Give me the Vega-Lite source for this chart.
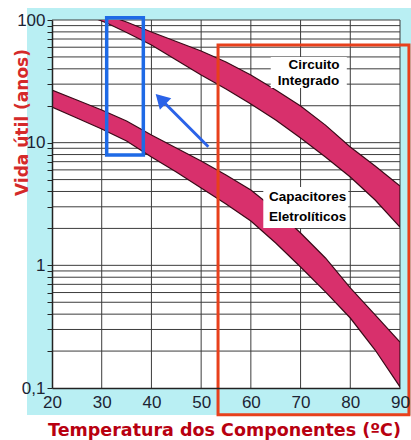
{
  "$schema": "https://vega.github.io/schema/vega-lite/v6.json",
  "width": 348,
  "height": 368,
  "autosize": {"type": "none"},
  "padding": {"left": 52, "top": 20, "right": 11, "bottom": 52},
  "background": "white",
  "config": {"view": {"stroke": null}},
  "datasets": {
    "frame": [{"x": 14.97, "x2": 93, "y": 0.0603, "y2": 125.3}],
    "plot": [{"x": 20, "x2": 90, "y": 0.1, "y2": 100}],
    "gridx": [{"gx": 30}, {"gx": 40}, {"gx": 50}, {"gx": 60}, {"gx": 70}, {"gx": 80}, {"gx": 90}],
    "gridy": [{"gy": 0.2}, {"gy": 0.3}, {"gy": 0.4}, {"gy": 0.5}, {"gy": 0.6}, {"gy": 0.7}, {"gy": 0.8}, {"gy": 0.9}, {"gy": 1}, {"gy": 2}, {"gy": 3}, {"gy": 4}, {"gy": 5}, {"gy": 6}, {"gy": 7}, {"gy": 8}, {"gy": 9}, {"gy": 10}, {"gy": 20}, {"gy": 30}, {"gy": 40}, {"gy": 50}, {"gy": 60}, {"gy": 70}, {"gy": 80}, {"gy": 90}, {"gy": 100}],
    "bands": [
      {"serie": "Circuito Integrado", "x": 28, "top": 120.6, "bottom": 105.8},
      {"serie": "Circuito Integrado", "x": 31, "top": 109.8, "bottom": 94.5},
      {"serie": "Circuito Integrado", "x": 35, "top": 96.3, "bottom": 79.1},
      {"serie": "Circuito Integrado", "x": 40, "top": 79.8, "bottom": 62.6},
      {"serie": "Circuito Integrado", "x": 45, "top": 66.8, "bottom": 47.2},
      {"serie": "Circuito Integrado", "x": 50, "top": 55.9, "bottom": 35.6},
      {"serie": "Circuito Integrado", "x": 55, "top": 45.5, "bottom": 27.4},
      {"serie": "Circuito Integrado", "x": 60, "top": 35.6, "bottom": 20.7},
      {"serie": "Circuito Integrado", "x": 65, "top": 26.9, "bottom": 15.3},
      {"serie": "Circuito Integrado", "x": 70, "top": 19.9, "bottom": 10.9},
      {"serie": "Circuito Integrado", "x": 75, "top": 13.9, "bottom": 7.64},
      {"serie": "Circuito Integrado", "x": 80, "top": 9.22, "bottom": 5.25},
      {"serie": "Circuito Integrado", "x": 85, "top": 6.45, "bottom": 3.41},
      {"serie": "Circuito Integrado", "x": 90, "top": 4.44, "bottom": 2.05},
      {"serie": "Capacitores Eletrolíticos", "x": 20, "top": 26.88, "bottom": 19.54},
      {"serie": "Capacitores Eletrolíticos", "x": 25, "top": 22.27, "bottom": 15.88},
      {"serie": "Capacitores Eletrolíticos", "x": 30, "top": 18.46, "bottom": 12.92},
      {"serie": "Capacitores Eletrolíticos", "x": 35, "top": 15.02, "bottom": 10.32},
      {"serie": "Capacitores Eletrolíticos", "x": 40, "top": 11.55, "bottom": 7.64},
      {"serie": "Capacitores Eletrolíticos", "x": 45, "top": 9.05, "bottom": 5.77},
      {"serie": "Capacitores Eletrolíticos", "x": 50, "top": 7.09, "bottom": 4.27},
      {"serie": "Capacitores Eletrolíticos", "x": 55, "top": 5.45, "bottom": 3.16},
      {"serie": "Capacitores Eletrolíticos", "x": 60, "top": 4.11, "bottom": 2.30},
      {"serie": "Capacitores Eletrolíticos", "x": 65, "top": 2.83, "bottom": 1.52},
      {"serie": "Capacitores Eletrolíticos", "x": 70, "top": 1.835, "bottom": 0.969},
      {"serie": "Capacitores Eletrolíticos", "x": 75, "top": 1.148, "bottom": 0.607},
      {"serie": "Capacitores Eletrolíticos", "x": 80, "top": 0.654, "bottom": 0.372},
      {"serie": "Capacitores Eletrolíticos", "x": 85, "top": 0.394, "bottom": 0.204},
      {"serie": "Capacitores Eletrolíticos", "x": 90, "top": 0.237, "bottom": 0.102}
    ],
    "boxes": [
      {"x": 64.0, "x2": 79.3, "y": 27.9, "y2": 49.9},
      {"x": 62.5, "x2": 79.6, "y": 2.02, "y2": 4.35}
    ],
    "labels": [
      {"x": 72.7, "y": 42.6, "t": "Circuito"},
      {"x": 71.6, "y": 32.1, "t": "Integrado"},
      {"x": 71.4, "y": 3.62, "t": "Capacitores"},
      {"x": 71.4, "y": 2.47, "t": "Eletrolíticos"}
    ],
    "redbox": [{"x": 53.4, "x2": 91.8, "y": 0.0604, "y2": 62.6}],
    "bluebox": [{"x": 31.0, "x2": 38.37, "y": 7.93, "y2": 104.4}],
    "arrow": [{"x": 51.45, "y": 9.27, "x2": 41.85, "y2": 22.7}],
    "head": [{"x": 41.85, "y": 22.7}]
  },
  "layer": [
    {
      "data": {"name": "frame"},
      "mark": {"type": "rect", "fill": "#b9eff3", "clip": false},
      "encoding": {
        "x": {"field": "x", "type": "quantitative",
          "scale": {"domain": [20, 90], "nice": false, "zero": false},
          "axis": {
            "values": [20, 30, 40, 50, 60, 70, 80, 90],
            "grid": false, "ticks": false, "domain": true,
            "domainColor": "#222222", "domainWidth": 1.5,
            "labelFont": "Liberation Sans", "labelFontSize": 17, "labelColor": "#1c2433",
            "labelPadding": 6, "labelFlush": false, "labelOverlap": false, "labelBound": false,
            "title": "Temperatura dos Componentes (ºC)",
            "titleFont": "DejaVu Sans", "titleFontSize": 17.5, "titleFontWeight": "bold",
            "titleColor": "#b80010", "titleX": 172, "titleY": 42,
            "titleAlign": "center", "titleBaseline": "middle",
            "zindex": 1
          }},
        "x2": {"field": "x2"},
        "y": {"field": "y", "type": "quantitative",
          "scale": {"type": "log", "domain": [0.1, 100], "nice": false},
          "axis": {
            "values": [0.1, 0.2, 0.3, 0.4, 0.5, 0.6, 0.7, 0.8, 0.9, 1, 2, 3, 4, 5, 6, 7, 8, 9, 10, 20, 30, 40, 50, 60, 70, 80, 90, 100],
            "grid": false, "ticks": true, "tickSize": 5, "tickColor": "#222222", "tickWidth": 1,
            "domain": true, "domainColor": "#222222", "domainWidth": 1.5,
            "labelExpr": "datum.value == 0.1 ? '0,1' : (datum.value == 1 || datum.value == 10 || datum.value == 100) ? format(datum.value, 'd') : ''",
            "labelFont": "Liberation Sans", "labelFontSize": 17, "labelColor": "#1c2433",
            "labelPadding": 2, "labelFlush": false, "labelOverlap": false, "labelBound": false,
            "title": "Vida útil (anos)",
            "titleFont": "DejaVu Sans", "titleFontSize": 17, "titleFontWeight": "bold",
            "titleColor": "#d42a2a", "titleX": -30, "titleY": 102, "titleAngle": -90,
            "titleAlign": "center", "titleBaseline": "middle",
            "zindex": 1
          }},
        "y2": {"field": "y2"}
      }
    },
    {
      "data": {"name": "plot"},
      "mark": {"type": "rect", "fill": "white", "clip": false},
      "encoding": {
        "x": {"field": "x", "type": "quantitative", "scale": {"domain": [20, 90], "nice": false, "zero": false}},
        "x2": {"field": "x2"},
        "y": {"field": "y", "type": "quantitative", "scale": {"type": "log", "domain": [0.1, 100], "nice": false}},
        "y2": {"field": "y2"}
      }
    },
    {
      "data": {"name": "gridx"},
      "mark": {"type": "rule", "color": "#3c3c3c", "strokeWidth": 1},
      "encoding": {
        "x": {"field": "gx", "type": "quantitative", "scale": {"domain": [20, 90], "nice": false, "zero": false}}
      }
    },
    {
      "data": {"name": "gridy"},
      "mark": {"type": "rule", "color": "#3c3c3c", "strokeWidth": 1},
      "encoding": {
        "y": {"field": "gy", "type": "quantitative", "scale": {"type": "log", "domain": [0.1, 100], "nice": false}}
      }
    },
    {
      "data": {"name": "bands"},
      "mark": {"type": "area", "fill": "#d8306c", "stroke": "#3a0a18", "strokeWidth": 1.2, "opacity": 1, "clip": true},
      "encoding": {
        "x": {"field": "x", "type": "quantitative", "scale": {"domain": [20, 90], "nice": false, "zero": false}},
        "y": {"field": "top", "type": "quantitative", "stack": null, "scale": {"type": "log", "domain": [0.1, 100], "nice": false}},
        "y2": {"field": "bottom"},
        "detail": {"field": "serie", "type": "nominal"}
      }
    },
    {
      "data": {"name": "boxes"},
      "mark": {"type": "rect", "fill": "white"},
      "encoding": {
        "x": {"field": "x", "type": "quantitative", "scale": {"domain": [20, 90], "nice": false, "zero": false}},
        "x2": {"field": "x2"},
        "y": {"field": "y", "type": "quantitative", "scale": {"type": "log", "domain": [0.1, 100], "nice": false}},
        "y2": {"field": "y2"}
      }
    },
    {
      "data": {"name": "labels"},
      "mark": {"type": "text", "font": "Liberation Sans", "fontSize": 13.5, "fontWeight": "bold", "color": "black", "align": "center", "baseline": "middle"},
      "encoding": {
        "x": {"field": "x", "type": "quantitative", "scale": {"domain": [20, 90], "nice": false, "zero": false}},
        "y": {"field": "y", "type": "quantitative", "scale": {"type": "log", "domain": [0.1, 100], "nice": false}},
        "text": {"field": "t", "type": "nominal"}
      }
    },
    {
      "data": {"name": "redbox"},
      "mark": {"type": "rect", "fill": null, "fillOpacity": 0, "stroke": "#e8401c", "strokeWidth": 3, "clip": false},
      "encoding": {
        "x": {"field": "x", "type": "quantitative", "scale": {"domain": [20, 90], "nice": false, "zero": false}},
        "x2": {"field": "x2"},
        "y": {"field": "y", "type": "quantitative", "scale": {"type": "log", "domain": [0.1, 100], "nice": false}},
        "y2": {"field": "y2"}
      }
    },
    {
      "data": {"name": "bluebox"},
      "mark": {"type": "rect", "fill": null, "fillOpacity": 0, "stroke": "#1e6ae6", "strokeWidth": 3.5, "clip": false},
      "encoding": {
        "x": {"field": "x", "type": "quantitative", "scale": {"domain": [20, 90], "nice": false, "zero": false}},
        "x2": {"field": "x2"},
        "y": {"field": "y", "type": "quantitative", "scale": {"type": "log", "domain": [0.1, 100], "nice": false}},
        "y2": {"field": "y2"}
      }
    },
    {
      "data": {"name": "arrow"},
      "mark": {"type": "rule", "color": "#2a62e8", "strokeWidth": 3},
      "encoding": {
        "x": {"field": "x", "type": "quantitative", "scale": {"domain": [20, 90], "nice": false, "zero": false}},
        "x2": {"field": "x2"},
        "y": {"field": "y", "type": "quantitative", "scale": {"type": "log", "domain": [0.1, 100], "nice": false}},
        "y2": {"field": "y2"}
      }
    },
    {
      "data": {"name": "head"},
      "mark": {"type": "point", "shape": "triangle-up", "filled": true, "color": "#2a62e8", "size": 260, "angle": 315, "opacity": 1},
      "encoding": {
        "x": {"field": "x", "type": "quantitative", "scale": {"domain": [20, 90], "nice": false, "zero": false}},
        "y": {"field": "y", "type": "quantitative", "scale": {"type": "log", "domain": [0.1, 100], "nice": false}}
      }
    }
  ]
}
